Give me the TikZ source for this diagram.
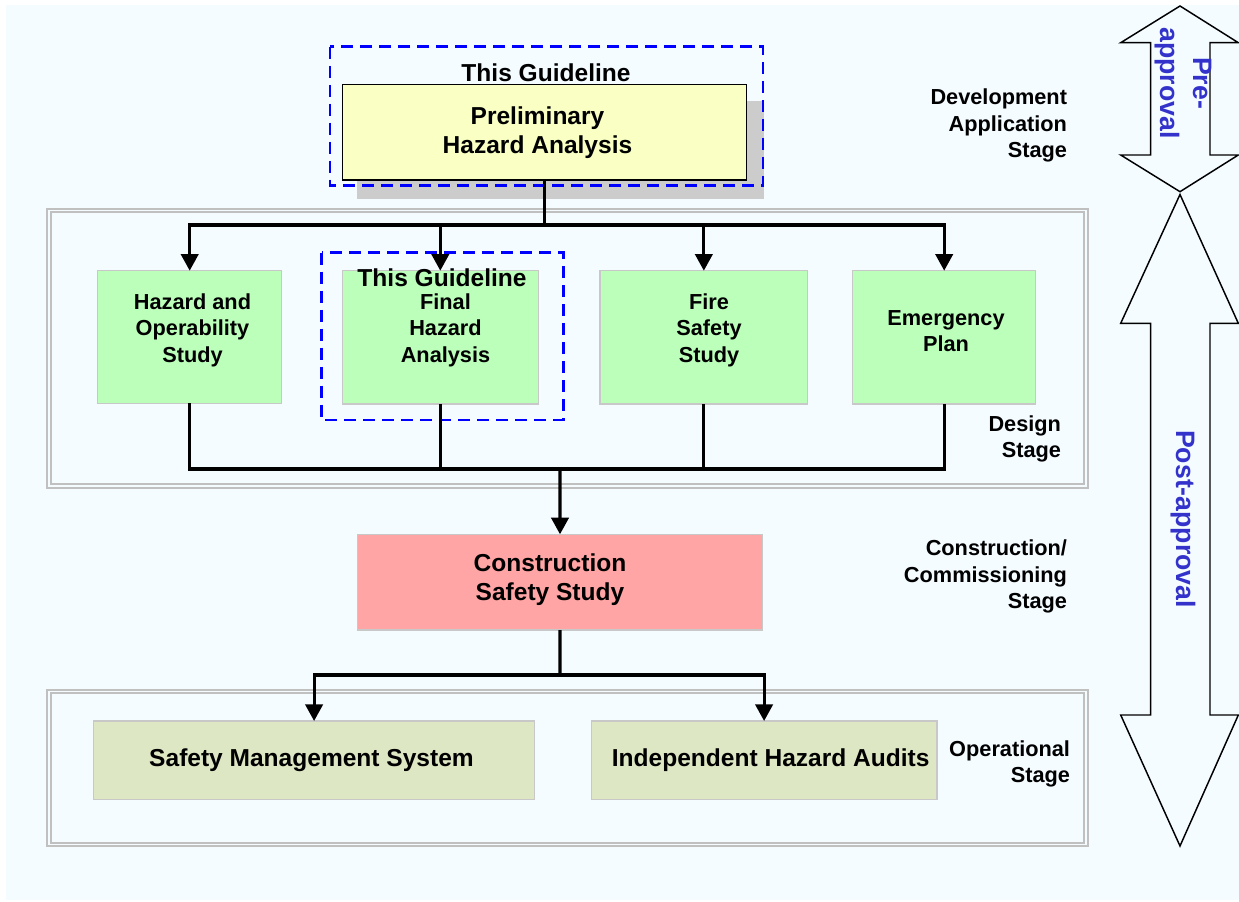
\documentclass[tikz,border=0pt]{standalone}
\usepackage{fontspec}
\setmainfont{Liberation Sans}
\usetikzlibrary{arrows.meta,fit}
\definecolor{bgc}{RGB}{244,252,255}
\definecolor{yelc}{RGB}{250,255,196}
\definecolor{grnc}{RGB}{187,255,187}
\definecolor{redc}{RGB}{255,165,165}
\definecolor{olvc}{RGB}{222,231,196}
\definecolor{boxgrey}{RGB}{200,200,200}
\definecolor{frgrey}{RGB}{192,192,192}
\definecolor{shadc}{RGB}{204,204,204}
\definecolor{dashb}{RGB}{0,0,255}
\definecolor{bluet}{RGB}{51,51,204}
\newcommand{\mybigf}{\fontsize{18.4}{21.6}\selectfont\bfseries}
\newcommand{\mysmf}{\fontsize{16.3}{19.9}\selectfont\bfseries}
\newcommand{\myapf}{\fontsize{20}{24.75}\selectfont\bfseries}
\begin{document}
\begin{tikzpicture}[x=0.75pt,y=-0.75pt,
  every node/.style={inner sep=0pt,outer sep=0pt},
  fitbox/.style={inner sep=0pt,outer sep=0pt},
  ybox/.style={fitbox,draw=black,line width=1.1pt,fill=yelc},
  gbox/.style={fitbox,draw=boxgrey,line width=1.1pt,fill=grnc},
  rbox/.style={fitbox,draw=boxgrey,line width=1.1pt,fill=redc},
  obox/.style={fitbox,draw=boxgrey,line width=1.1pt,fill=olvc},
  guide/.style={draw=dashb,line width=2pt,dash pattern=on 9pt off 5.25pt},
  bigtxt/.style={font=\mybigf,align=center},
  smtxt/.style={font=\mysmf,align=center},
  stagetxt/.style={font=\mysmf,align=right,anchor=east},
  apptxt/.style={font=\myapf,align=center,text=bluet,rotate=-90},
  wire/.style={line width=2.4pt},
  conn/.style={line width=2.4pt,-{Triangle[length=12.5pt,width=13pt]}},
  bigarrow/.style={draw=black,line width=1.1pt,line join=miter},
  frameout/.style={draw=frgrey,line width=1.5pt},
  framein/.style={draw=frgrey,line width=0.8pt}
]
\useasboundingbox (0,0) rectangle (1239,902);
\fill[white] (0,0) rectangle (1239,902);
\fill[bgc] (6,5) rectangle (1239,900);

% stage frames
\draw[frameout] (47,209) rectangle (1088,488);
\draw[framein] (51,212) rectangle (1084,484);
\draw[frameout] (47,690) rectangle (1088,846);
\draw[framein] (51,693) rectangle (1084,843);

% preliminary hazard analysis
\fill[shadc] (357,101) rectangle (764,199);
\node[ybox, fit={(342.7,84.3) (746.7,180)}] (pha) {};
\node[bigtxt] (phat) at (537.5,132.5) {Preliminary\\Hazard Analysis};
\draw[guide] (330,46.7) rectangle (763,185.7);
\node[bigtxt] (tg1) at (546,73) {This Guideline};

% design stage boxes
\node[gbox, fit={(97.7,270.7) (281.7,403.3)}] (hazop) {};
\node[gbox, fit={(342.3,270.7) (538.3,404)}] (fha) {};
\node[gbox, fit={(600,270.7) (807.7,404)}] (fire) {};
\node[gbox, fit={(852.7,270.7) (1035.7,404)}] (emerg) {};
\node[smtxt] (hazopt) at (192.5,330) {Hazard and\\Operability\\Study};
\node[smtxt] (fhat) at (445.5,330) {Final\\Hazard\\Analysis};
\node[smtxt] (firet) at (709,330) {Fire\\Safety\\Study};
\node[smtxt] (emergt) at (946,331) {Emergency\\Plan};
\draw[guide] (321.7,252.7) rectangle (563.3,420);

% construction and operational boxes
\node[rbox, fit={(357.7,534.3) (762.3,630)}] (css) {};
\node[bigtxt] (csst) at (550,580) {Construction\\Safety Study};
\node[obox, fit={(93.6,721) (534.6,799.3)}] (sms) {};
\node[obox, fit={(591.4,721) (936.8,799.3)}] (iha) {};
\node[bigtxt] (smst) at (311.5,760) {Safety Management System};
\node[bigtxt] (ihat) at (770.7,760) {Independent Hazard Audits};

% connectors
\coordinate (tb) at (544.7,225);
\coordinate (bb) at (560,469);
\coordinate (ob) at (560,675);
\draw[wire] (pha.south) -- (tb);
\draw[conn] (tb) -| (hazop.north);
\draw[conn] (tb) -| (fha.north);
\draw[conn] (tb) -| (fire.north);
\draw[conn] (tb) -| (emerg.north);
\draw[wire] (hazop.south) |- (bb) -| (emerg.south);
\draw[wire] (fha.south) -- (fha.south |- bb);
\draw[wire] (fire.south) -- (fire.south |- bb);
\draw[conn] (bb) -- (css.north);
\draw[wire] (css.south) -- (ob);
\draw[conn] (ob) -| (sms.north);
\draw[conn] (ob) -| (iha.north);

% guideline label in design stage
\node[bigtxt] (tg2) at (442,278) {This Guideline};

% stage labels
\node[stagetxt] (devst) at (1067,125.5) {Development\\Application\\Stage};
\node[stagetxt] (desst) at (1061,439) {Design\\Stage};
\node[stagetxt] (const) at (1067,576.5) {Construction/\\Commissioning\\Stage};
\node[stagetxt] (opst) at (1070,764) {Operational\\Stage};

% approval arrows
\draw[bigarrow] (1180,6) -- (1238.3,42.7) -- (1210,42.7) -- (1210,155) -- (1238.3,155)
  -- (1180,191.7) -- (1120.7,155) -- (1150.7,155) -- (1150.7,42.7) -- (1120.7,42.7) -- cycle;
\draw[bigarrow] (1180,194.5) -- (1238.3,323.3) -- (1210,323.3) -- (1210,715) -- (1238.3,715)
  -- (1180,846) -- (1120.7,715) -- (1150.7,715) -- (1150.7,323.3) -- (1120.7,323.3) -- cycle;
\node[apptxt] (preap) at (1183,83) {Pre-\\approval};
\node[apptxt] (postap) at (1183,519) {Post-approval};
\end{tikzpicture}
\end{document}
